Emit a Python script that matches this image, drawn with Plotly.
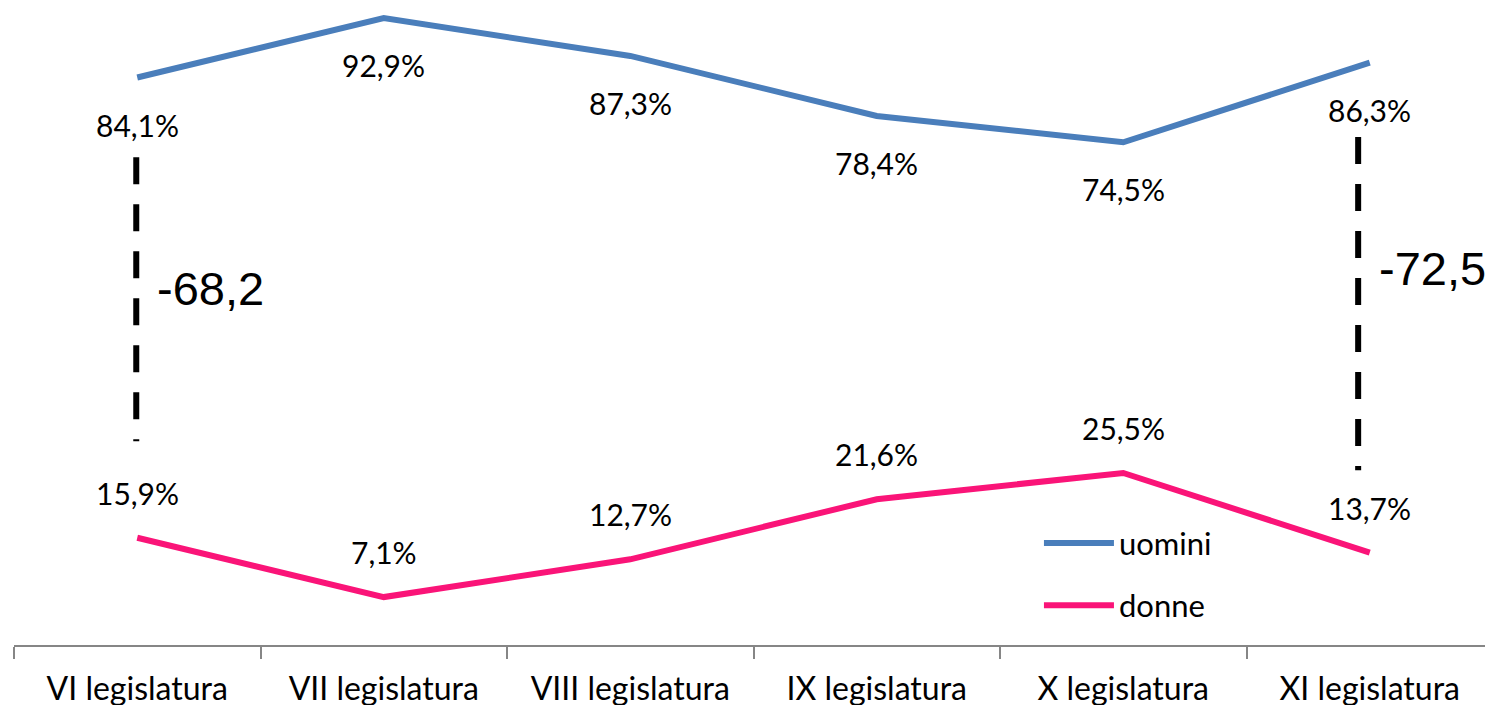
import plotly.graph_objects as go

categories = ["VI legislatura", "VII legislatura", "VIII legislatura",
              "IX legislatura", "X legislatura", "XI legislatura"]
uomini = [84.1, 92.9, 87.3, 78.4, 74.5, 86.3]
donne = [15.9, 7.1, 12.7, 21.6, 25.5, 13.7]
gap_labels = ["-68,2", "-72,5"]
gap_categories = ["VI legislatura", "XI legislatura"]

BLUE = "#4A7EBB"
PINK = "#FA1478"
FONT = "Lato"

def fmt(v):
    return f"{v:.1f}".replace(".", ",") + "%"

fig = go.Figure()
fig.add_trace(go.Scatter(x=categories, y=uomini, mode="lines", name="uomini",
                         legendgroup="u",
                         line=dict(color=BLUE, width=6)))
fig.add_trace(go.Scatter(x=categories, y=donne, mode="lines", name="donne",
                         legendgroup="d",
                         line=dict(color=PINK, width=6)))

for c, v in zip(categories, uomini):
    fig.add_annotation(x=c, y=v, text=fmt(v), showarrow=False, yshift=-47,
                       font=dict(family=FONT, size=30, color="black"))
for c, v in zip(categories, donne):
    fig.add_annotation(x=c, y=v, text=fmt(v), showarrow=False, yshift=45,
                       font=dict(family=FONT, size=30, color="black"))

# dashed difference markers (x offset, top, bottom, label y)
idx = {c: i for i, c in enumerate(categories)}
dash_spans = [(-0.004, 72.3, 30.2, 52.8), (-0.047, 75.3, 25.9, 55.8)]
for c, txt, (off, y0, y1, ty) in zip(gap_categories, gap_labels, dash_spans):
    xi = idx[c] + off
    fig.add_shape(type="line", xref="x", yref="y", x0=xi, x1=xi, y0=y0, y1=y1,
                  line=dict(color="black", width=6, dash="27px,20px"))
    fig.add_annotation(x=xi, y=ty, xanchor="left", xshift=19,
                       text=txt, showarrow=False,
                       font=dict(family="Liberation Sans", size=47, color="black"))

fig.update_layout(
    width=1493, height=705,
    margin=dict(l=6, r=8, t=0, b=68),
    paper_bgcolor="white", plot_bgcolor="white",
    showlegend=True,
    legend=dict(x=0.693, y=0.202, xanchor="left", yanchor="top",
                font=dict(family=FONT, size=31, color="black"),
                itemwidth=70, bgcolor="rgba(0,0,0,0)", tracegroupgap=19),
    xaxis=dict(type="category", categoryorder="array", categoryarray=categories,
               range=[-0.5, 5.5], showgrid=False, zeroline=False,
               showline=True, linecolor="#868686", linewidth=2,
               ticks="outside", tickson="boundaries", ticklen=12,
               tickcolor="#868686", tickwidth=2, ticklabelstandoff=15,
               tickfont=dict(family=FONT, size=32, color="black")),
    yaxis=dict(range=[0, 94.4], visible=False, showgrid=False, zeroline=False),
)

fig.write_html("out.html")
